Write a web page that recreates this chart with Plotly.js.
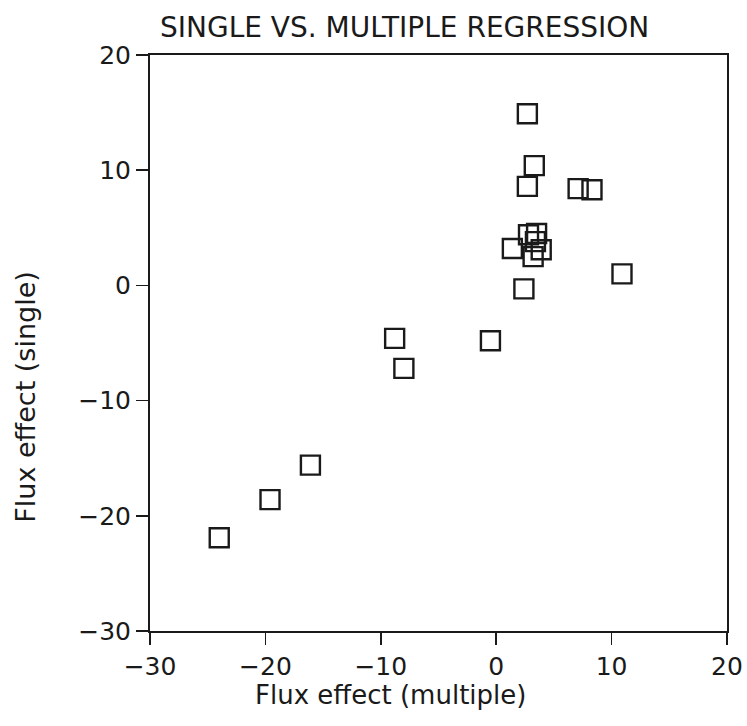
<!DOCTYPE html>
<html>
<head>
<meta charset="utf-8">
<script src="https://cdn.plot.ly/plotly-3.0.1.min.js"></script>
<style>html,body{margin:0;padding:0;background:#fff;}#chart{width:747px;height:726px;}</style>
</head>
<body>
<div id="chart"></div>
<script>
// Data
const fluxMultiple = [-24.0, -19.6, -16.1, -8.8, -8.0, -0.5, 1.4, 2.4, 2.7, 3.3, 2.7, 7.1, 8.3, 10.9, 2.8, 3.5, 3.2, 3.9, 3.4];
const fluxSingle   = [-21.9, -18.6, -15.6, -4.6, -7.2, -4.8, 3.2, -0.3, 14.9, 10.4, 8.6, 8.4, 8.3, 1.0, 4.4, 4.5, 2.5, 3.1, 3.8];
const tickValues = [-30, -20, -10, 0, 10, 20];
const titleText = "SINGLE VS. MULTIPLE REGRESSION";
const xLabel = "Flux effect (multiple)";
const yLabel = "Flux effect (single)";

const ink = "#1a1a1a";
const fontFam = "DejaVu Sans, sans-serif";

const trace = {
  x: fluxMultiple,
  y: fluxSingle,
  type: "scatter",
  mode: "markers",
  marker: {symbol: "square-open", size: 19, color: ink, line: {width: 2.4, color: ink}},
  hoverinfo: "skip"
};

const axisCommon = {
  showgrid: false,
  zeroline: false,
  showline: true,
  mirror: true,
  linecolor: ink,
  linewidth: 2,
  ticks: "outside",
  ticklen: 12,
  tickwidth: 1.5,
  tickcolor: ink,
  tickmode: "array",
  tickvals: tickValues,
  tickfont: {family: fontFam, size: 25, color: ink}
};

const layout = {
  width: 747,
  height: 726,
  margin: {l: 150, r: 20, t: 55, b: 95},
  paper_bgcolor: "#fff",
  plot_bgcolor: "#fff",
  showlegend: false,
  xaxis: Object.assign({}, axisCommon, {range: [-30, 20], ticklabelstandoff: 0}),
  yaxis: Object.assign({}, axisCommon, {range: [-30, 20], ticklabelstandoff: 0}),
  annotations: [
    {text: titleText, xref: "paper", yref: "paper", x: 0.4407, y: 1.047, xanchor: "center", yanchor: "middle",
     showarrow: false, font: {family: fontFam, size: 28, color: ink}},
    {text: xLabel, xref: "paper", yref: "paper", x: 0.4165, y: -0.111, xanchor: "center", yanchor: "middle",
     showarrow: false, font: {family: fontFam, size: 26, color: ink}},
    {text: yLabel, xref: "paper", yref: "paper", x: -0.2156, y: 0.406, xanchor: "center", yanchor: "middle",
     textangle: -90, showarrow: false, font: {family: fontFam, size: 27, color: ink}}
  ]
};

Plotly.newPlot("chart", [trace], layout, {staticPlot: true, displayModeBar: false});
</script>
</body>
</html>
